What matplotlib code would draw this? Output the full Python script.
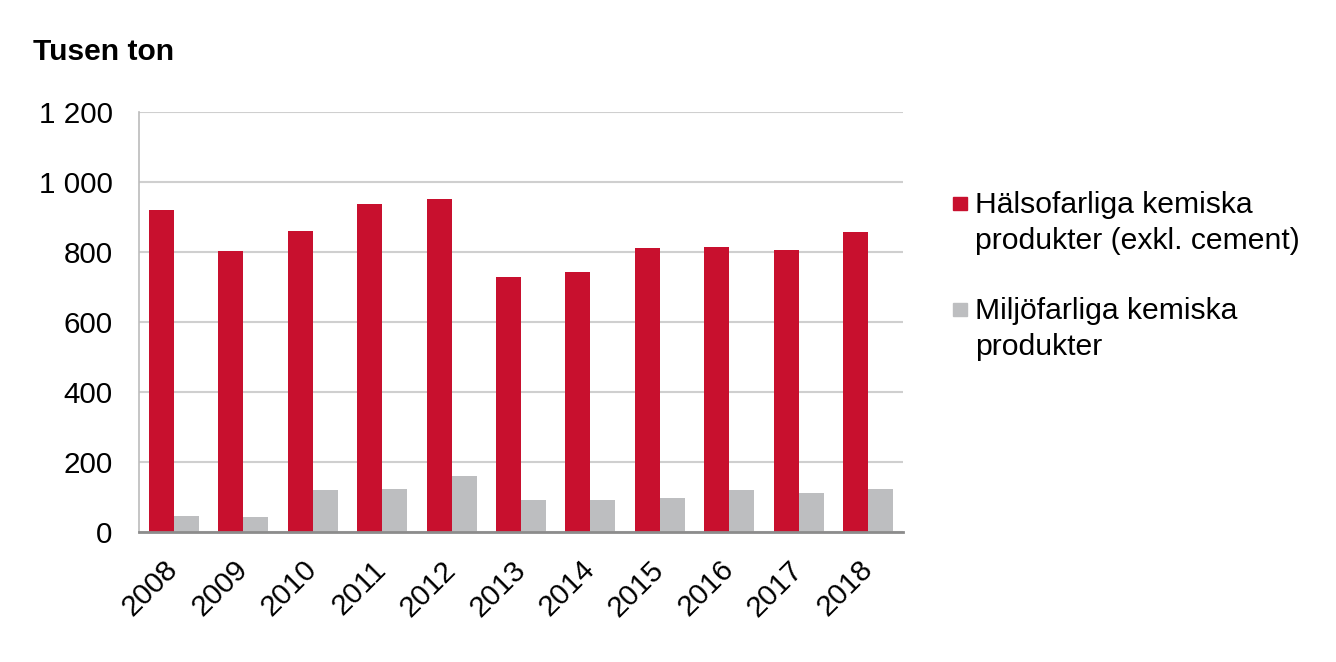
import matplotlib
matplotlib.use("Agg")
import matplotlib.pyplot as plt
from matplotlib.patches import Rectangle
import numpy as np

plt.rcParams["font.family"] = ["Liberation Sans", "DejaVu Sans"]

YEARS = ["2008", "2009", "2010", "2011", "2012", "2013", "2014", "2015", "2016", "2017", "2018"]
HEALTH = [921, 804, 861, 938, 952, 730, 744, 811, 815, 807, 857]
ENVIRONMENT = [47, 42, 121, 123, 159, 91, 91, 97, 119, 111, 123]
LEGEND_LABELS = ["Hälsofarliga kemiska\nprodukter (exkl. cement)", "Miljöfarliga kemiska\nprodukter"]
Y_TICKS = [0, 200, 400, 600, 800, 1000, 1200]

RED = "#C8102E"
GREY = "#BDBEC0"

W, H = 1336, 662


def fx(px):
    return px / W


def fy(py):
    return 1 - py / H


fig = plt.figure(figsize=(W / 100, H / 100), dpi=100)
ax = fig.add_axes([fx(139), fy(532), fx(903) - fx(139), fy(112) - fy(532)])

x = np.arange(len(YEARS))
bw = 0.36
ax.bar(x - bw / 2, HEALTH, width=bw, color=RED, zorder=3)
ax.bar(x + bw / 2, ENVIRONMENT, width=bw, color=GREY, zorder=3)

ax.set_xlim(-0.5, len(YEARS) - 0.5)
ax.set_ylim(0, 1200)
ax.set_yticks(Y_TICKS)
ax.set_yticklabels([f"{v:,}".replace(",", " ") for v in Y_TICKS])
ax.yaxis.grid(True, color="#CFCFCF", linewidth=1.5, zorder=0)
ax.set_axisbelow(True)

ax.set_xticks(x)
ax.set_xticklabels(YEARS, rotation=45, ha="right", va="center", rotation_mode="anchor")
ax.tick_params(axis="both", length=0, labelsize=21.3)
ax.tick_params(axis="y", pad=19)
ax.tick_params(axis="x", pad=24)

for side in ("top", "right"):
    ax.spines[side].set_visible(False)
ax.spines["left"].set_color("#BBBBBB")
ax.spines["left"].set_linewidth(1.2)
ax.spines["bottom"].set_color("#8C8C8C")
ax.spines["bottom"].set_linewidth(2)
ax.spines["bottom"].set_zorder(4)

fig.text(fx(33), fy(52), "Tusen ton", fontsize=21.6, fontweight="bold", va="center", ha="left")

# legend drawn by hand so the swatch sits on the first text line
for colour, label, top in zip([RED, GREY], LEGEND_LABELS, [197, 303]):
    fig.patches.append(Rectangle((fx(953), fy(top + 13)), fx(14), fy(0) - fy(13),
                                 transform=fig.transFigure, color=colour))
    fig.text(fx(975), fy(top - 6), label, fontsize=21.7, va="top", ha="left", linespacing=1.35)

fig.savefig("out.png", dpi=100)
